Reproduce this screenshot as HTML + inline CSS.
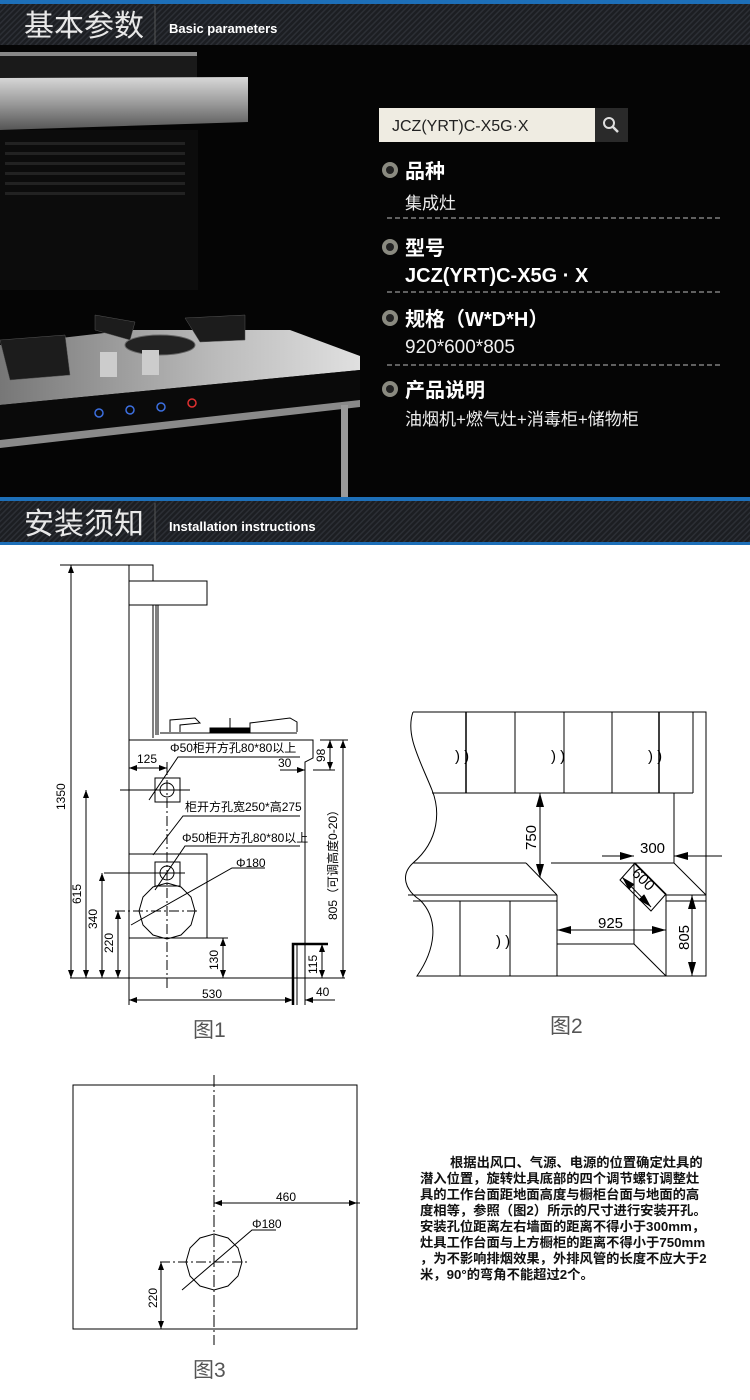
<!DOCTYPE html>
<html><head><meta charset="utf-8">
<style>
html,body{margin:0;padding:0;background:#fff;}
svg{display:block;}
text{font-family:"Liberation Sans","Noto Sans CJK SC",sans-serif;}
</style></head>
<body>
<svg width="750" height="1400" viewBox="0 0 750 1400" xmlns="http://www.w3.org/2000/svg">
<defs>
<pattern id="stripe" width="4" height="4" patternUnits="userSpaceOnUse" patternTransform="rotate(45)">
<rect width="4" height="4" fill="#1c1e22"/><rect width="1.5" height="4" fill="#2c2f35"/>
</pattern>
<linearGradient id="silver" x1="0" y1="0" x2="0" y2="1">
<stop offset="0" stop-color="#d8d8d8"/><stop offset="0.5" stop-color="#9a9a9a"/><stop offset="1" stop-color="#555"/>
</linearGradient>
<linearGradient id="top" x1="0" y1="0" x2="1" y2="0">
<stop offset="0" stop-color="#777"/><stop offset="0.6" stop-color="#bbb"/><stop offset="1" stop-color="#e0e0e0"/>
</linearGradient>
<marker id="ar" markerWidth="8" markerHeight="6" refX="8" refY="3" orient="auto-start-reverse" markerUnits="userSpaceOnUse">
<path d="M0,0 L8,3 L0,6 z" fill="#000"/></marker>
<marker id="arb" markerWidth="14" markerHeight="8" refX="14" refY="4" orient="auto-start-reverse" markerUnits="userSpaceOnUse">
<path d="M0,0 L14,4 L0,8 z" fill="#000"/></marker>
</defs>

<rect x="0" y="0" width="750" height="500" fill="#050505"/>
<rect x="0" y="0" width="750" height="4" fill="#1d6fb8"/>
<rect x="0" y="4" width="750" height="41" fill="url(#stripe)"/>
<line x1="155" y1="6" x2="155" y2="44" stroke="#555" stroke-width="1"/>
<text x="24" y="36" font-size="30" fill="#e8e8e8">基本参数</text>
<text x="169" y="33" font-size="13" font-weight="bold" fill="#fff">Basic parameters</text>

<path d="M0,52 L197,52 L197,82 L0,82 z" fill="#1a1a1a"/>
<rect x="0" y="52" width="197" height="4" fill="#888"/>
<path d="M0,78 L248,77 L248,122 L0,130 z" fill="url(#silver)"/>
<rect x="0" y="130" width="198" height="160" fill="#0c0c0c"/>
<g fill="#222">
<rect x="5" y="142" width="180" height="3"/><rect x="5" y="152" width="180" height="3"/><rect x="5" y="162" width="180" height="3"/><rect x="5" y="172" width="180" height="3"/><rect x="5" y="182" width="180" height="3"/><rect x="5" y="192" width="180" height="3"/>
</g>
<path d="M0,345 L130,330 L290,330 L360,356 L360,370 L0,405 z" fill="url(#top)"/>
<path d="M0,405 L360,370 L360,400 L0,440 z" fill="#0a0a0a"/>
<path d="M0,440 L360,400 L360,407 L0,448 z" fill="#8a8a8a"/>
<rect x="341" y="405" width="7" height="92" fill="#9a9a9a"/>
<g fill="#1c1c1c" stroke="#555" stroke-width="0.5">
<path d="M95,315 L135,322 L130,340 L95,330 z"/><path d="M185,318 L245,315 L245,340 L200,342 z"/>
<path d="M0,340 L65,335 L70,375 L10,380 z"/>
</g>
<ellipse cx="160" cy="345" rx="35" ry="10" fill="#222" stroke="#666"/>
<rect x="100" y="352" width="17" height="25" fill="#ccc"/><rect x="142" y="350" width="17" height="25" fill="#ccc"/>
<g fill="none" stroke-width="1.5"><circle cx="99" cy="413" r="4" stroke="#3c6fe0"/><circle cx="130" cy="410" r="4" stroke="#3c6fe0"/><circle cx="161" cy="407" r="4" stroke="#3c6fe0"/><circle cx="192" cy="403" r="4" stroke="#e03030"/></g>

<rect x="379" y="108" width="216" height="34" fill="#efece2"/>
<rect x="595" y="108" width="33" height="34" fill="#2a2a2a"/>
<circle cx="609" cy="123" r="5" fill="none" stroke="#ddd" stroke-width="2"/>
<line x1="613" y1="127" x2="618" y2="132" stroke="#ddd" stroke-width="2.5"/>
<text x="392" y="131" font-size="16" fill="#222">JCZ(YRT)C-X5G·X</text>

<g fill="#8a8a80"><circle cx="390" cy="170" r="8"/><circle cx="390" cy="247" r="8"/><circle cx="390" cy="318" r="8"/><circle cx="390" cy="389" r="8"/></g>
<g fill="#222"><circle cx="390" cy="170" r="4"/><circle cx="390" cy="247" r="4"/><circle cx="390" cy="318" r="4"/><circle cx="390" cy="389" r="4"/></g>
<g fill="#fff" font-weight="bold" font-size="20">
<text x="405" y="178">品种</text><text x="405" y="255">型号</text><text x="405" y="326">规格（W*D*H）</text><text x="405" y="397">产品说明</text>
<text x="405" y="282">JCZ(YRT)C-X5G · X</text>
</g>
<g fill="#eee" font-size="17">
<text x="405" y="209">集成灶</text><text x="405" y="353" font-size="19">920*600*805</text><text x="405" y="425">油烟机+燃气灶+消毒柜+储物柜</text>
</g>
<g stroke="#bbb" stroke-dasharray="5,3" stroke-width="1"><line x1="387" y1="218" x2="723" y2="218"/><line x1="387" y1="292" x2="723" y2="292"/><line x1="387" y1="365" x2="723" y2="365"/></g>

<rect x="0" y="497" width="750" height="4" fill="#1d6fb8"/>
<rect x="0" y="501" width="750" height="41" fill="url(#stripe)"/>
<rect x="0" y="542" width="750" height="3" fill="#1d6fb8"/>
<line x1="155" y1="503" x2="155" y2="541" stroke="#555"/>
<text x="24" y="534" font-size="30" fill="#e8e8e8">安装须知</text>
<text x="169" y="531" font-size="13" font-weight="bold" fill="#fff">Installation instructions</text>

<g stroke="#000" stroke-width="1" fill="none">
<rect x="129" y="565" width="24" height="16"/>
<rect x="129" y="581" width="78" height="24"/>
<line x1="129" y1="605" x2="129" y2="1005"/>
<line x1="153" y1="605" x2="153" y2="738"/>
<line x1="156" y1="605" x2="156" y2="735"/><line x1="158" y1="605" x2="158" y2="735"/>
<path d="M170,732 L170,720 L195,718 L200,723 L180,725 L180,732"/>
<path d="M250,732 L250,723 L290,718 L297,722 L297,732"/>
<line x1="160" y1="733" x2="297" y2="733"/>
<rect x="210" y="728" width="40" height="5" fill="#000"/><line x1="230" y1="718" x2="230" y2="728"/>
<line x1="129" y1="740" x2="313" y2="740"/>
<path d="M305,740 L313,740 L313,758 L305,762 L305,1005"/>
<rect x="155" y="778" width="25" height="24"/>
<circle cx="167" cy="790" r="7"/>
<line x1="120" y1="790" x2="190" y2="790"/>
<line x1="167" y1="780" x2="167" y2="990" stroke-dasharray="10,3,2,3"/>
<rect x="129" y="854" width="78" height="84"/>
<rect x="155" y="862" width="25" height="24"/>
<circle cx="167" cy="873" r="7"/>
<line x1="104" y1="873" x2="185" y2="873"/>
<polygon points="167,883 181,887 191,897 195,911 191,925 181,935 167,939 153,935 143,925 139,911 143,897 153,887"/>
<line x1="115" y1="911" x2="200" y2="911" stroke-dasharray="10,3,2,3"/>
<line x1="70" y1="978" x2="345" y2="978"/>
<path d="M293,1005 L293,944 L328,944" stroke-width="2.5"/>
<line x1="297" y1="944" x2="297" y2="1005"/>
<line x1="60" y1="565" x2="150" y2="565"/>
<line x1="71" y1="565" x2="71" y2="978" marker-start="url(#ar)" marker-end="url(#ar)"/>
<line x1="86" y1="790" x2="86" y2="978" marker-start="url(#ar)" marker-end="url(#ar)"/>
<line x1="102" y1="873" x2="102" y2="978" marker-start="url(#ar)" marker-end="url(#ar)"/>
<line x1="118" y1="911" x2="118" y2="978" marker-start="url(#ar)" marker-end="url(#ar)"/>
<line x1="223" y1="938" x2="223" y2="978" marker-start="url(#ar)" marker-end="url(#ar)"/>
<line x1="200" y1="938" x2="228" y2="938"/>
<line x1="313" y1="770" x2="335" y2="770"/>
<line x1="320" y1="740" x2="348" y2="740"/>
<line x1="330" y1="740" x2="330" y2="770" marker-start="url(#ar)" marker-end="url(#ar)"/>
<line x1="343" y1="740" x2="343" y2="978" marker-start="url(#ar)" marker-end="url(#ar)"/>
<line x1="322" y1="944" x2="322" y2="978" marker-start="url(#ar)" marker-end="url(#ar)"/>
<line x1="129" y1="768" x2="167" y2="768" marker-start="url(#ar)" marker-end="url(#ar)"/>
<line x1="167" y1="762" x2="167" y2="775"/>
<line x1="280" y1="770" x2="305" y2="770" marker-end="url(#ar)"/>
<line x1="129" y1="1000" x2="293" y2="1000" marker-start="url(#ar)" marker-end="url(#ar)"/>
<line x1="305" y1="1000" x2="335" y2="1000" marker-start="url(#ar)"/>
<path d="M300,757 L178,757 L149,800" />
<path d="M300,816 L183,816 L153,855"/>
<path d="M300,846 L185,846 L155,890"/>
<path d="M265,868 L232,868 L131,925"/>
</g>
<g font-size="12" fill="#000">
<text x="170" y="752">Φ50柜开方孔80*80以上</text>
<text x="137" y="763">125</text>
<text x="278" y="767">30</text>
<text x="185" y="811">柜开方孔宽250*高275</text>
<text x="182" y="842">Φ50柜开方孔80*80以上</text>
<text x="236" y="867">Φ180</text>
<text x="202" y="998">530</text>
<text x="316" y="996">40</text>
<text transform="translate(65,810) rotate(-90)">1350</text>
<text transform="translate(81,904) rotate(-90)">615</text>
<text transform="translate(97,929) rotate(-90)">340</text>
<text transform="translate(113,953) rotate(-90)">220</text>
<text transform="translate(218,970) rotate(-90)">130</text>
<text transform="translate(325,762) rotate(-90)">98</text>
<text transform="translate(317,974) rotate(-90)">115</text>
<text transform="translate(337,920) rotate(-90)">805（可调高度0-20）</text>
</g>
<text x="193" y="1037" font-size="21" fill="#555">图1</text>

<g stroke="#000" stroke-width="1" fill="none">
<path d="M413,712 L706,712 L706,976 L417,976 C435,950 440,920 420,900 C405,890 400,875 413,863 C440,840 440,810 432,790 C420,760 405,735 413,712"/>
<line x1="432" y1="793" x2="693" y2="793"/>
<line x1="693" y1="712" x2="693" y2="793"/>
<line x1="466" y1="712" x2="466" y2="793" stroke-width="1.5"/>
<line x1="515" y1="712" x2="515" y2="793"/>
<line x1="564" y1="712" x2="564" y2="793"/>
<line x1="612" y1="712" x2="612" y2="793"/>
<line x1="659" y1="712" x2="659" y2="793" stroke-width="1.5"/>
<line x1="674" y1="793" x2="674" y2="863"/>
<line x1="413" y1="863" x2="526" y2="863"/>
<line x1="551" y1="863" x2="674" y2="863"/>
<line x1="526" y1="863" x2="557" y2="895"/>
<line x1="674" y1="863" x2="706" y2="895"/>
<line x1="408" y1="895" x2="557" y2="895"/>
<line x1="413" y1="901" x2="557" y2="901"/>
<line x1="666" y1="895" x2="706" y2="895"/>
<line x1="666" y1="901" x2="706" y2="901"/>
<line x1="460" y1="901" x2="460" y2="976"/>
<line x1="510" y1="901" x2="510" y2="976"/>
<line x1="557" y1="895" x2="557" y2="976"/>
<line x1="666" y1="895" x2="666" y2="976"/>
<line x1="557" y1="944" x2="634" y2="944"/>
<line x1="634" y1="863" x2="634" y2="944"/>
<line x1="634" y1="944" x2="666" y2="976"/>
<line x1="634" y1="863" x2="666" y2="895"/>
<line x1="540" y1="793" x2="540" y2="878" marker-start="url(#arb)" marker-end="url(#arb)"/>
<line x1="602" y1="856" x2="634" y2="856" marker-end="url(#arb)"/>
<line x1="722" y1="856" x2="674" y2="856" marker-end="url(#arb)"/>
<line x1="557" y1="930" x2="666" y2="930" marker-start="url(#arb)" marker-end="url(#arb)"/>
<line x1="692" y1="895" x2="692" y2="976" marker-start="url(#arb)" marker-end="url(#arb)"/>
<path d="M620,880 L635,863 L666,894 L651,911 z"/>
<line x1="622" y1="877" x2="651" y2="907" marker-start="url(#arb)" marker-end="url(#arb)"/>
</g>
<g font-size="15" fill="#000">
<text x="455" y="761">) )</text><text x="551" y="761">) )</text><text x="648" y="761">) )</text><text x="496" y="946">) )</text>
<text transform="translate(536,850) rotate(-90)">750</text>
<text x="640" y="853">300</text>
<text x="598" y="928">925</text>
<text transform="translate(689,950) rotate(-90)">805</text>
<text transform="translate(631,874) rotate(45)">600</text>
</g>
<text x="550" y="1033" font-size="21" fill="#555">图2</text>

<g stroke="#000" stroke-width="1" fill="none">
<rect x="73" y="1085" width="284" height="244"/>
<line x1="214" y1="1075" x2="214" y2="1345" stroke-dasharray="12,3,2,3"/>
<line x1="214" y1="1203" x2="357" y2="1203" marker-start="url(#ar)" marker-end="url(#ar)"/>
<line x1="357" y1="1203" x2="360" y2="1203"/>
<polygon points="214,1234 228,1238 238,1248 242,1262 238,1276 228,1286 214,1290 200,1286 190,1276 186,1262 190,1248 200,1238"/>
<line x1="160" y1="1262" x2="248" y2="1262" stroke-dasharray="10,3,2,3"/>
<line x1="161" y1="1262" x2="161" y2="1329" marker-start="url(#ar)" marker-end="url(#ar)"/>
<path d="M276,1230 L252,1230 L182,1290"/>
</g>
<g font-size="12" fill="#000">
<text x="276" y="1201">460</text>
<text x="252" y="1228">Φ180</text>
<text transform="translate(157,1308) rotate(-90)">220</text>
</g>
<text x="193" y="1377" font-size="21" fill="#555">图3</text>

<g font-size="13.3" font-weight="bold" fill="#111">
<text x="450" y="1167">根据出风口、气源、电源的位置确定灶具的</text>
<text x="420" y="1183">潜入位置，旋转灶具底部的四个调节螺钉调整灶</text>
<text x="420" y="1199">具的工作台面距地面高度与橱柜台面与地面的高</text>
<text x="420" y="1215">度相等，参照（图2）所示的尺寸进行安装开孔。</text>
<text x="420" y="1231">安装孔位距离左右墙面的距离不得小于300mm，</text>
<text x="420" y="1247">灶具工作台面与上方橱柜的距离不得小于750mm</text>
<text x="420" y="1263">，为不影响排烟效果，外排风管的长度不应大于2</text>
<text x="420" y="1279">米，90°的弯角不能超过2个。</text>
</g>
</svg>
</body></html>
